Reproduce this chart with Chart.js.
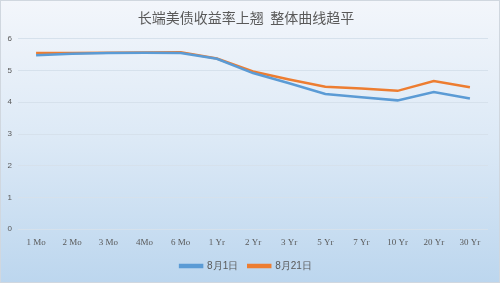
<!DOCTYPE html>
<html>
<head>
<meta charset="utf-8">
<script src="https://cdn.jsdelivr.net/npm/chart.js@4"></script>
<style>
  html, body { margin: 0; padding: 0; }
  #wrap { width: 500px; height: 283px; }
</style>
</head>
<body>
<div id="wrap"><canvas id="yieldChart"></canvas></div>
<script>
const categories = ['1 Mo', '2 Mo', '3 Mo', '4Mo', '6 Mo', '1 Yr', '2 Yr', '3 Yr', '5 Yr', '7 Yr', '10 Yr', '20 Yr', '30 Yr'];
const aug1 = [5.48, 5.53, 5.55, 5.56, 5.55, 5.37, 4.92, 4.60, 4.26, 4.16, 4.06, 4.32, 4.12];
const aug21 = [5.55, 5.55, 5.56, 5.57, 5.58, 5.38, 4.97, 4.72, 4.49, 4.43, 4.36, 4.67, 4.47];
const yTicks = [0, 1, 2, 3, 4, 5, 6];

const bgPlugin = {
    id: 'bg',
    beforeDraw(chart) {
        const c = chart.ctx;
        const g = c.createLinearGradient(0, 0, 0, chart.height);
        g.addColorStop(0, '#f3f6fb');
        g.addColorStop(0.5, '#dce9f6');
        g.addColorStop(1, '#bcd6ee');
        c.save();
        c.fillStyle = g;
        c.fillRect(0, 0, chart.width, chart.height);
        c.strokeStyle = '#d0d7df';
        c.lineWidth = 1;
        c.strokeRect(0.5, 0.5, chart.width - 1, chart.height - 1);
        c.restore();
    }
};

const ctx = document.getElementById('yieldChart').getContext('2d');

new Chart(ctx, {
    type: 'line',
    data: {
        labels: categories,
        datasets: [{
            label: '8月1日',
            data: aug1,
            borderColor: '#5b9bd5',
            backgroundColor: '#5b9bd5',
            borderWidth: 2.5,
            pointRadius: 0,
            tension: 0
        }, {
            label: '8月21日',
            data: aug21,
            borderColor: '#ed7d31',
            backgroundColor: '#ed7d31',
            borderWidth: 2.5,
            pointRadius: 0,
            tension: 0
        }]
    },
    options: {
        responsive: true,
        maintainAspectRatio: false,
        animation: false,
        layout: { padding: { left: 4, right: 12, top: 0, bottom: 2 } },
        scales: {
            x: {
                offset: true,
                afterFit(axis) { axis.height += 3; },
                grid: { display: false },
                border: { display: false },
                ticks: {
                    color: '#595959',
                    font: { family: 'Liberation Serif', size: 9 },
                    maxRotation: 0,
                    autoSkip: false,
                    padding: 0
                }
            },
            y: {
                min: 0,
                max: 6,
                afterBuildTicks(axis) {
                    axis.ticks = yTicks.map(v => ({ value: v }));
                },
                afterFit(axis) { axis.width = 14; },
                grid: { color: '#d6e1ec', drawTicks: false },
                border: { display: false },
                ticks: {
                    color: '#595959',
                    font: { family: 'Liberation Sans', size: 8 },
                    padding: 6
                }
            }
        },
        plugins: {
            title: {
                display: true,
                text: '长端美债收益率上翘  整体曲线趋平',
                color: '#595959',
                font: { family: 'Noto Sans CJK SC', size: 14, weight: 'normal' },
                padding: { top: 9, bottom: 13 }
            },
            legend: {
                position: 'bottom',
                labels: {
                    boxWidth: 22,
                    boxHeight: 2,
                    color: '#595959',
                    font: { family: 'Liberation Sans', size: 10 },
                    padding: 10
                }
            },
            tooltip: { enabled: false }
        }
    },
    plugins: [bgPlugin]
});
</script>
</body>
</html>
